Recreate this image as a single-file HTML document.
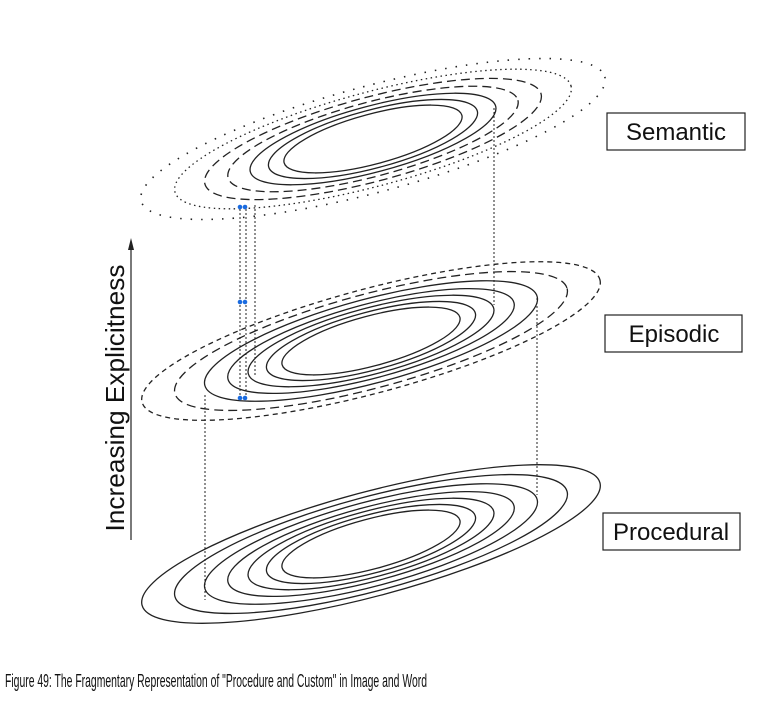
<!DOCTYPE html>
<html><head><meta charset="utf-8"><style>
html,body{margin:0;padding:0;background:#fff;}
svg{display:block;}
</style></head><body>
<svg width="768" height="701" viewBox="0 0 768 701" xmlns="http://www.w3.org/2000/svg">
<g fill="none" stroke="#222">
<g transform="translate(371,544) rotate(-15)" stroke-width="1.3">
<ellipse rx="237" ry="52"/><ellipse rx="203" ry="47"/><ellipse rx="172" ry="42"/><ellipse rx="148" ry="37"/><ellipse rx="127" ry="33"/><ellipse rx="108" ry="29"/><ellipse rx="92" ry="25"/>
</g>
<g transform="translate(371,341) rotate(-15)" stroke-width="1.3">
<ellipse rx="237" ry="52" stroke-dasharray="5,4"/><ellipse rx="203" ry="47" stroke-dasharray="9,5"/>
<ellipse rx="172" ry="42"/><ellipse rx="148" ry="37"/><ellipse rx="127" ry="33"/><ellipse rx="108" ry="29"/><ellipse rx="92" ry="25"/>
</g>
<g transform="translate(373,139) rotate(-15)" stroke-width="1.3">
<ellipse rx="240" ry="53" stroke-dasharray="1.5,9" stroke-width="1.6"/><ellipse rx="205" ry="47" stroke-dasharray="1.5,3.5"/>
<ellipse rx="174" ry="42" stroke-dasharray="9,5"/><ellipse rx="150" ry="37" stroke-dasharray="9,5"/>
<ellipse rx="127" ry="33"/><ellipse rx="108" ry="29"/><ellipse rx="92" ry="25"/>
</g>
<g stroke-width="1" stroke-dasharray="2,2">
<line x1="205" y1="395" x2="205" y2="600"/>
<line x1="537" y1="298" x2="537" y2="495"/>
<line x1="494" y1="108" x2="494" y2="305"/>
<line x1="255" y1="205" x2="255" y2="375"/>
<line x1="240" y1="205" x2="240" y2="400"/>
<line x1="246" y1="205" x2="246" y2="400"/>
</g>
<line x1="131" y1="248" x2="131" y2="540" stroke-width="1.2"/>
</g>
<polygon points="131,238 128,250 134,250" fill="#222"/>
<g fill="#1a6be0">
<circle cx="240" cy="207" r="2.3"/><circle cx="245" cy="207" r="2.3"/>
<circle cx="240" cy="302" r="2.3"/><circle cx="245" cy="302" r="2.3"/>
<circle cx="240" cy="398" r="2.3"/><circle cx="245" cy="398" r="2.3"/>
</g>
<g font-family="Liberation Sans, sans-serif" fill="#111">
<text transform="translate(124,398) rotate(-90)" font-size="26" text-anchor="middle" textLength="267" lengthAdjust="spacingAndGlyphs">Increasing Explicitness</text>
<rect x="607" y="113" width="138" height="37" fill="none" stroke="#222" stroke-width="1.2"/>
<text x="676" y="140" font-size="24" text-anchor="middle">Semantic</text>
<rect x="605" y="315" width="137" height="37" fill="none" stroke="#222" stroke-width="1.2"/>
<text x="674" y="342" font-size="24" text-anchor="middle">Episodic</text>
<rect x="603" y="513" width="137" height="37" fill="none" stroke="#222" stroke-width="1.2"/>
<text x="671" y="540" font-size="24" text-anchor="middle">Procedural</text>
<text x="5" y="687" font-size="18" textLength="422" lengthAdjust="spacingAndGlyphs">Figure 49: The Fragmentary Representation of "Procedure and Custom" in Image and Word</text>
</g>
</svg>
</body></html>
